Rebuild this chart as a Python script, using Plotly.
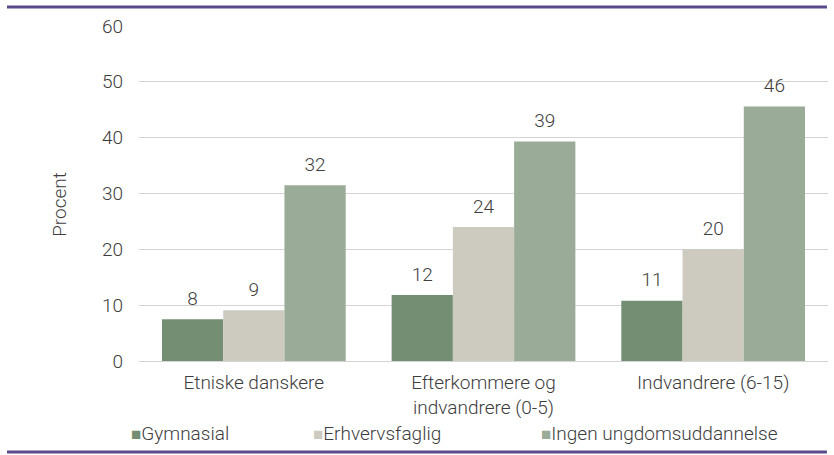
import plotly.graph_objects as go

categories = ["Etniske danskere", "Efterkommere og<br>indvandrere (0-5)", "Indvandrere (6-15)"]
series_names = ["Gymnasial", "Erhvervsfaglig", "Ingen ungdomsuddannelse"]
gymnasial = [7.5, 11.8, 10.8]
erhvervsfaglig = [9.1, 24.0, 20.0]
ingen = [31.5, 39.3, 45.6]
colors = ["#738e73", "#cdcac0", "#9aab97"]

font_family = "Roboto, 'Noto Sans', sans-serif"
text_color = "#3d3d3d"
fsize = 19

fig = go.Figure()
for i, (name, vals, col) in enumerate(zip(series_names, [gymnasial, erhvervsfaglig, ingen], colors)):
    fig.add_trace(go.Bar(
        x=categories,
        y=vals,
        name=name,
        offsetgroup=str(i),
        marker=dict(color=col, line=dict(width=0)),
        showlegend=False,
    ))
    # value labels, grouped like the bars
    fig.add_trace(go.Scatter(
        x=categories,
        y=vals,
        offsetgroup=str(i),
        mode="markers+text",
        marker=dict(size=14, opacity=0),
        text=[str(round(v)) for v in vals],
        textposition="top center",
        textfont=dict(size=fsize, color=text_color, family=font_family, weight=300),
        cliponaxis=False,
        showlegend=False,
        hoverinfo="skip",
    ))

# legend drawn as text rows so the small square sits right next to the label
legend_x = [-0.0152, 0.249, 0.580]
annotations = []
for name, col, lx in zip(series_names, colors, legend_x):
    annotations.append(dict(
        xref="paper", yref="paper", x=lx, y=-0.215,
        xanchor="left", yanchor="middle", showarrow=False,
        text=f'<span style="color:{col};font-size:17px">■</span>{name}',
        font=dict(size=fsize, color=text_color, family=font_family, weight=300),
    ))

# y axis title, sits a bit below the plot centre in the original
annotations.append(dict(
    xref="paper", yref="paper", x=-0.1147, y=0.469,
    xanchor="center", yanchor="middle", showarrow=False, textangle=-90,
    text="Procent",
    font=dict(size=fsize, color=text_color, family=font_family, weight=300),
))

fig.update_layout(
    width=834,
    height=455,
    barmode="group",
    bargap=0.2,
    bargroupgap=0,
    scattermode="group",
    scattergap=0.2,
    plot_bgcolor="white",
    paper_bgcolor="white",
    margin=dict(l=139, r=6, t=26, b=94),
    font=dict(family=font_family, size=fsize, color=text_color, weight=300),
    showlegend=False,
    yaxis=dict(
        range=[0, 60],
        dtick=10,
        showgrid=True,
        gridcolor="#d4d4d4",
        gridwidth=1,
        zeroline=True,
        zerolinecolor="#d4d4d4",
        zerolinewidth=1,
        ticks="",
        ticklabelstandoff=15,
    ),
    xaxis=dict(
        showgrid=False,
        ticks="",
        showline=False,
        ticklabelstandoff=8,
        tickfont=dict(size=fsize, color=text_color),
    ),
    annotations=annotations,
    shapes=[
        dict(type="line", xref="paper", yref="paper", x0=-0.1916, x1=0.9985,
             y0=1.0567, y1=1.0567, line=dict(color="#5c4a8c", width=3)),
        dict(type="line", xref="paper", yref="paper", x0=-0.1916, x1=0.9985,
             y0=-0.2716, y1=-0.2716, line=dict(color="#5c4a8c", width=3)),
    ],
)

fig.write_html("out.html", config={"displayModeBar": False},
               post_script="document.body.style.margin='0';")
